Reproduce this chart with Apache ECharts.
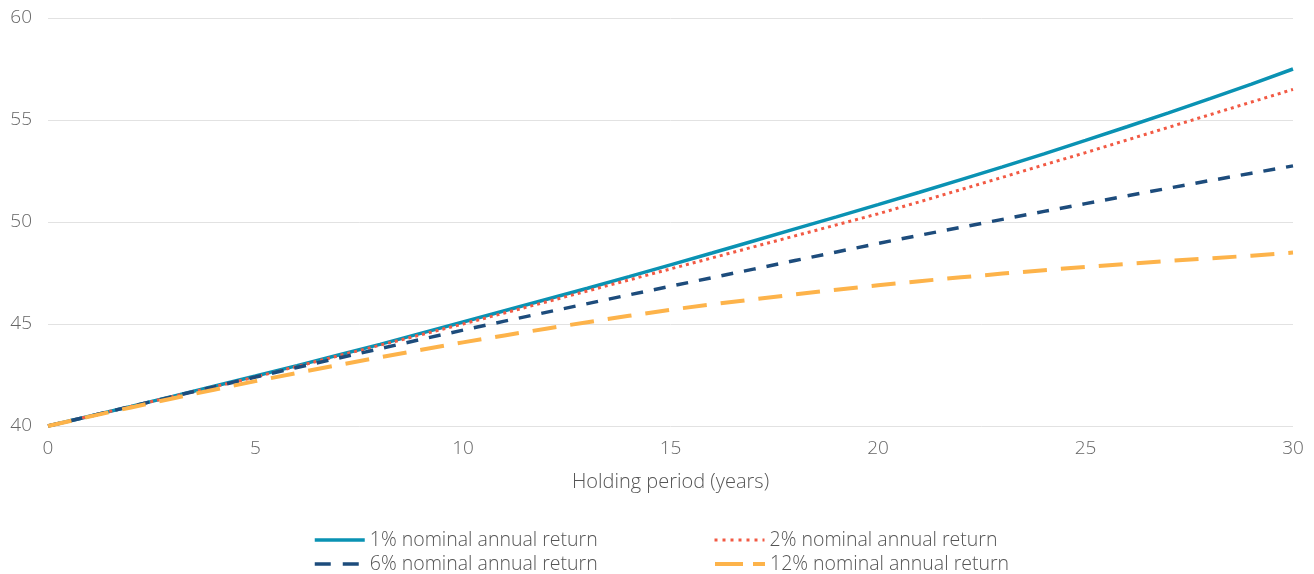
<!DOCTYPE html>
<html>
<head>
<meta charset="utf-8">
<script src="https://cdn.jsdelivr.net/npm/echarts@6/dist/echarts.min.js"></script>
<style>
  html, body { margin: 0; padding: 0; background: #fff; }
  #chart { width: 1314px; height: 574px; }
</style>
</head>
<body>
<div id="chart"></div>
<script>
// Holding period in years
const years = [];
for (let i = 0; i <= 30; i++) years.push(i);

const seriesNames = [
  '1% nominal annual return',
  '2% nominal annual return',
  '6% nominal annual return',
  '12% nominal annual return'
];

const return1 = [40.0, 40.48, 40.96, 41.45, 41.95, 42.45, 42.96, 43.48, 44.0, 44.55,
  45.1, 45.65, 46.2, 46.75, 47.32, 47.9, 48.48, 49.07, 49.66, 50.25,
  50.85, 51.46, 52.08, 52.7, 53.34, 54.0, 54.67, 55.35, 56.05, 56.76, 57.5];

const return2 = [40.0, 40.48, 40.96, 41.44, 41.92, 42.4, 42.92, 43.44, 43.96, 44.48,
  45.0, 45.54, 46.08, 46.62, 47.16, 47.7, 48.24, 48.78, 49.32, 49.86,
  50.4, 50.99, 51.59, 52.19, 52.8, 53.4, 54.02, 54.64, 55.26, 55.88, 56.5];

const return6 = [40.0, 40.48, 40.96, 41.44, 41.92, 42.4, 42.87, 43.33, 43.79, 44.25,
  44.7, 45.14, 45.57, 46.0, 46.43, 46.85, 47.27, 47.69, 48.11, 48.53,
  48.95, 49.35, 49.74, 50.13, 50.52, 50.9, 51.28, 51.66, 52.03, 52.39, 52.75];

const return12 = [40.0, 40.46, 40.91, 41.35, 41.78, 42.2, 42.6, 42.99, 43.37, 43.74,
  44.1, 44.44, 44.77, 45.09, 45.4, 45.7, 45.96, 46.21, 46.45, 46.68,
  46.9, 47.1, 47.29, 47.47, 47.64, 47.8, 47.95, 48.09, 48.22, 48.35, 48.5];

const xTicks = [0, 5, 10, 15, 20, 25, 30];
const yTicks = [40, 45, 50, 55, 60];

const FONT = '"Open Sans", Lato, sans-serif';

function pairs(values) {
  return years.map((y, i) => [y, values[i]]);
}

// Line styles on the plot, and the dash used in each legend swatch
const lineDefs = [
  { name: seriesNames[0], data: return1, color: '#0A92B3', width: 3.5, type: 'solid', legendType: 'solid' },
  { name: seriesNames[1], data: return2, color: '#F25A44', width: 3, type: [3, 4], legendType: [3, 5] },
  { name: seriesNames[2], data: return6, color: '#1D4C7C', width: 3.5, type: [12, 11], legendType: [16, 12] },
  { name: seriesNames[3], data: return12, color: '#FDB34A', width: 4, type: [24, 14], legendType: [28, 10] }
];

// One legend entry per slot: two columns, two rows
const legendSlots = [
  { series: 0, left: 313, top: 530 },
  { series: 2, left: 313, top: 554 },
  { series: 1, left: 713, top: 530 },
  { series: 3, left: 713, top: 554 }
];

const chart = echarts.init(document.getElementById('chart'), null, { renderer: 'canvas' });

chart.setOption({
  animation: false,
  backgroundColor: '#ffffff',
  grid: { left: 48, right: 21, top: 18, bottom: 148, containLabel: false },
  xAxis: {
    type: 'value',
    min: 0,
    max: 30,
    interval: 5,
    name: 'Holding period (years)',
    nameLocation: 'middle',
    nameGap: 46,
    nameTextStyle: { fontFamily: FONT, fontSize: 20, fontWeight: 300, color: '#555' },
    axisLine: { show: false },
    axisTick: { show: false },
    splitLine: { show: false },
    axisLabel: {
      margin: 13,
      fontFamily: FONT,
      fontSize: 19,
      fontWeight: 300,
      color: '#666',
      formatter: v => (xTicks.includes(v) ? String(v) : '')
    }
  },
  yAxis: {
    type: 'value',
    min: 40,
    max: 60,
    interval: 5,
    axisLine: { show: false },
    axisTick: { show: false },
    splitLine: { show: true, lineStyle: { color: '#e2e2e2', width: 1 } },
    axisLabel: {
      margin: 16,
      fontFamily: FONT,
      fontSize: 19,
      fontWeight: 300,
      color: '#666',
      formatter: v => (yTicks.includes(v) ? String(v) : '')
    }
  },
  legend: legendSlots.map(s => {
    const d = lineDefs[s.series];
    return {
      data: [d.name],
      left: s.left,
      top: s.top,
      padding: 0,
      itemWidth: 50,
      itemHeight: 14,
      itemGap: 0,
      itemStyle: { opacity: 0 },
      lineStyle: { width: d.width, type: d.legendType, color: d.color },
      textStyle: { fontFamily: FONT, fontSize: 19.5, fontWeight: 300, color: '#555' }
    };
  }),
  series: lineDefs.map(d => ({
    name: d.name,
    type: 'line',
    data: pairs(d.data),
    symbol: 'none',
    showSymbol: false,
    smooth: false,
    color: d.color,
    lineStyle: { color: d.color, width: d.width, type: d.type, cap: 'butt' },
    z: 2
  }))
});
</script>
</body>
</html>
